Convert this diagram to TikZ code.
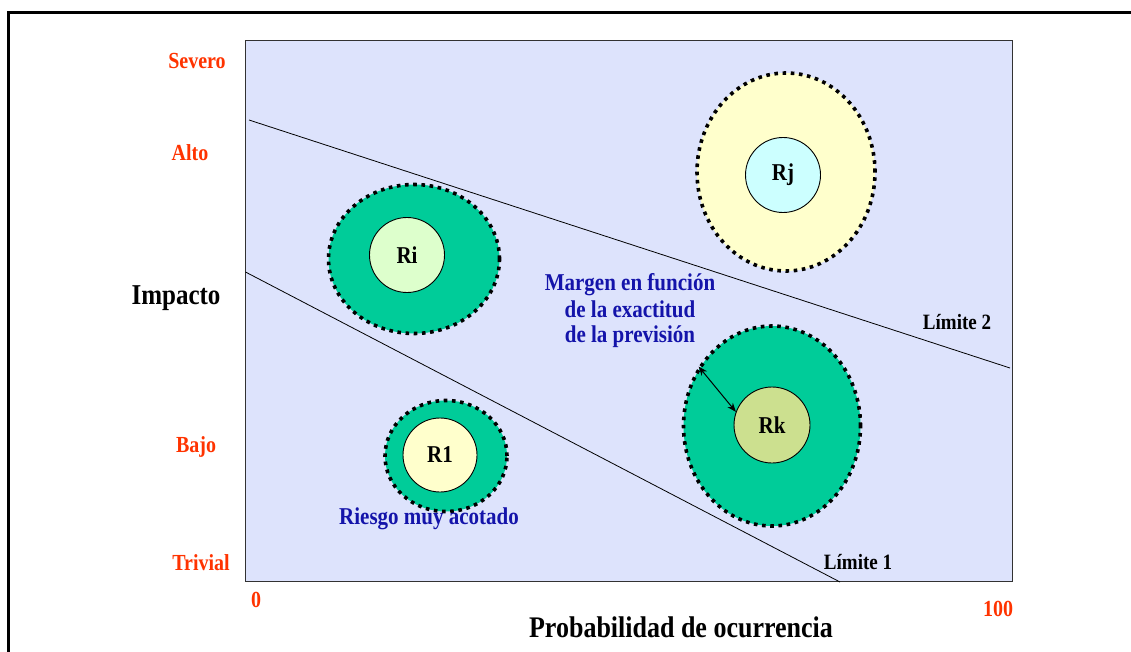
\documentclass[tikz,border=0pt]{standalone}
\usepackage{fontspec}
\usepackage{graphicx}
\setmainfont{Liberation Serif}
\usetikzlibrary{shapes.geometric,arrows.meta}
\definecolor{bgblue}{RGB}{221,227,252}
\definecolor{ringgreen}{RGB}{0,204,153}
\definecolor{axisred}{RGB}{255,51,0}
\definecolor{txtblue}{RGB}{20,20,170}
\definecolor{riin}{RGB}{221,255,204}
\definecolor{paleyel}{RGB}{255,255,204}
\definecolor{rjin}{RGB}{204,255,255}
\definecolor{rkin}{RGB}{204,224,143}
\definecolor{plotedge}{RGB}{50,50,50}
\newcommand\stx[1]{\scalebox{1}[1.15]{#1}}
\newcommand\fsz[1]{\fontsize{#1}{#1}\selectfont\bfseries}
\begin{document}
\begin{tikzpicture}[x=1pt,y=-1pt,
  redlbl/.style={inner sep=0pt, text=axisred, font=\fsz{20}},
  blklbl/.style={inner sep=0pt, text=black, font=\fsz{19}},
  bluelbl/.style={inner sep=0pt, text=txtblue, font=\fsz{21}},
  outring/.style={ellipse, draw=black, line width=3.6pt, dash pattern=on 3.6pt off 4.6pt, inner sep=0pt},
  innerc/.style={circle, draw=black, line width=0.9pt, inner sep=0pt, font=\fsz{21}},
  limline/.style={draw=black, line width=0.8pt}]
\useasboundingbox (0,0) rectangle (1131,652);
\begin{scope}
\clip (0,0) rectangle (1131,652);
% outer frame
\draw[line width=3pt] (8.7,660) -- (8.7,12.8) -- (1140,12.8);
\end{scope}
% plot area
\node[draw=plotedge, line width=1.5pt, fill=bgblue, inner sep=0pt, minimum width=767pt, minimum height=541pt] (plot) at (629,311) {};
% rings
\node[outring, fill=ringgreen, minimum width=171pt, minimum height=149pt] (RiO) at (414,259) {};
\node[innerc, fill=riin, minimum size=75pt] (Ri) at (407,255) {\stx{Ri}};
\node[outring, fill=paleyel, minimum width=178pt, minimum height=198pt] (RjO) at (786,172) {};
\node[innerc, fill=rjin, minimum size=75pt] (Rj) at (783,175) {\stx{Rj}};
\node[outring, fill=ringgreen, minimum width=177pt, minimum height=200pt] (RkO) at (772,426) {};
\node[innerc, fill=rkin, minimum size=76pt] (Rk) at (772,425) {\stx{Rk}};
\node[outring, fill=ringgreen, minimum width=122pt, minimum height=111pt] (R1O) at (446,456) {};
\node[innerc, fill=paleyel, minimum size=74pt] (R1) at (440,455) {\stx{R1}};
\draw[{Stealth[length=9pt,width=7pt]}-{Stealth[length=9pt,width=7pt]}, line width=1pt] (RkO.141) -- (Rk.160);
% limit lines
\coordinate (l2a) at (249,120);
\coordinate (l2b) at (1010,368);
\coordinate (l1a) at (245.5,272);
\coordinate (l1b) at (840,582);
\draw[limline] (l2a) -- (l2b);
\draw[limline] (l1a) -- (l1b);
% axis labels
\node[redlbl] (sev) at (197,61) {\stx{Severo}};
\node[redlbl] (alto) at (190,153) {\stx{Alto}};
\node[redlbl] (bajo) at (196,447) {\stx{Bajo}};
\node[redlbl] (triv) at (201,563) {\stx{Trivial}};
\node[redlbl] (zero) at (256,600) {\stx{0}};
\node[redlbl] (hund) at (998,609) {\stx{100}};
\node[inner sep=0pt, font=\fsz{25}] (imp) at (176,298) {\stx{Impacto}};
\node[inner sep=0pt, font=\fsz{26}] (prob) at (681,627) {\stx{Probabilidad de ocurrencia}};
\node[blklbl] (lim2) at (957,322) {\stx{Límite 2}};
\node[blklbl] (lim1) at (858,562) {\stx{Límite 1}};
\node[bluelbl, align=center] (marg) at (630,311) {\stx{Margen en función}\\[4pt]\stx{de la exactitud}\\[4pt]\stx{de la previsión}};
\node[bluelbl] (ries) at (429,519) {\stx{Riesgo muy acotado}};
\end{tikzpicture}
\end{document}
